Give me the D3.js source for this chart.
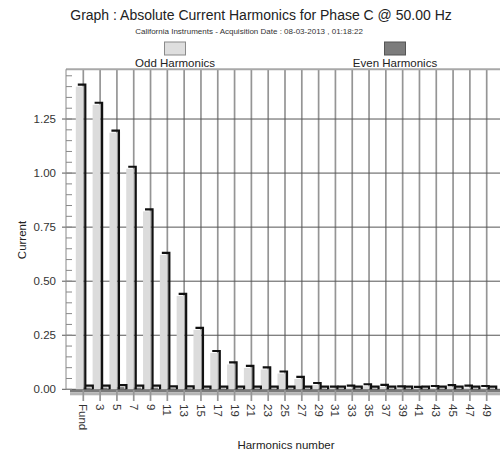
<!DOCTYPE html>
<html>
<head>
<meta charset="utf-8">
<script src="https://cdn.jsdelivr.net/npm/d3@7"></script>
<style>
  html, body { margin: 0; padding: 0; background: #fff; }
  svg { display: block; font-family: "Liberation Sans", Arial, sans-serif; }
</style>
</head>
<body>
<svg id="chart" width="500" height="452"></svg>
<script>
// ---- data ----
const categories = ["Fund","3","5","7","9","11","13","15","17","19","21","23","25","27","29","31","33","35","37","39","41","43","45","47","49"];
const oddValues  = [1.40,1.316,1.187,1.02,0.823,0.622,0.432,0.275,0.168,0.115,0.099,0.092,0.073,0.048,0.020,0.003,0.008,0.014,0.011,0.004,0.002,0.006,0.010,0.008,0.006];
const evenValues = [0.008,0.008,0.010,0.008,0.008,0.004,0.004,0.003,0.003,0.003,0.003,0.003,0.003,0.003,0.003,0.003,0.003,0.003,0.003,0.003,0.003,0.003,0.003,0.003,0.003];
const yTicks = [0, 0.25, 0.5, 0.75, 1.0, 1.25];
const yTickLabels = ["0.00","0.25","0.50","0.75","1.00","1.25"];
const seriesNames = ["Odd Harmonics", "Even Harmonics"];
const titleText = "Graph : Absolute Current Harmonics for Phase C @ 50.00 Hz";
const subtitleText = "California Instruments - Acquisition Date : 08-03-2013 , 01:18:22";
const xTitle = "Harmonics number";
const yTitle = "Current";

// ---- layout ----
const svg = d3.select("#chart");
const plot = { left: 66, right: 500, top: 69.3, bottom: 389.3 };
const x = d3.scalePoint().domain(categories).range([83.3, 486.7]);
const y = d3.scaleLinear().domain([0, 1.48]).range([plot.bottom, plot.top]);
const barW = 7.5, dx = 2, dy = -2;

// titles
svg.append("text").attr("x", 261).attr("y", 20).attr("text-anchor", "middle")
  .attr("font-size", 14).attr("fill", "#222").text(titleText);
svg.append("text").attr("x", 249).attr("y", 33.5).attr("text-anchor", "middle")
  .attr("font-size", 8).attr("fill", "#333").text(subtitleText);

// legend
const legend = [
  { name: seriesNames[0], cx: 175, fill: "#dedede", stroke: "#8a8a8a" },
  { name: seriesNames[1], cx: 395, fill: "#7c7c7c", stroke: "#555" }
];
legend.forEach(l => {
  svg.append("rect").attr("x", l.cx - 10.5).attr("y", 42).attr("width", 21).attr("height", 13)
    .attr("fill", l.fill).attr("stroke", l.stroke).attr("stroke-width", 1);
  svg.append("text").attr("x", l.cx).attr("y", 66.5).attr("text-anchor", "middle")
    .attr("font-size", 11.5).attr("fill", "#222").text(l.name);
});

// floor band
svg.append("rect").attr("x", 70).attr("y", plot.bottom).attr("width", plot.right - 70).attr("height", 3)
  .attr("fill", "#7a7a7a");
svg.append("rect").attr("x", 70).attr("y", plot.bottom + 3).attr("width", plot.right - 70).attr("height", 3)
  .attr("fill", "#b4b4b4");

// vertical gridlines (extend below as ticks)
svg.append("g").selectAll("line").data(categories).join("line")
  .attr("x1", d => x(d)).attr("x2", d => x(d))
  .attr("y1", plot.top).attr("y2", 401)
  .attr("stroke", "#959595").attr("stroke-width", 1.7);

// horizontal gridlines
svg.append("g").selectAll("line").data(yTicks).join("line")
  .attr("x1", 62).attr("x2", plot.right)
  .attr("y1", d => y(d)).attr("y2", d => y(d))
  .attr("stroke", "#555").attr("stroke-width", 1);

// top frame & y axis line
svg.append("line").attr("x1", plot.left).attr("x2", plot.right).attr("y1", plot.top).attr("y2", plot.top)
  .attr("stroke", "#a8a8a8").attr("stroke-width", 2);
svg.append("line").attr("x1", plot.left).attr("x2", plot.left).attr("y1", plot.top).attr("y2", plot.bottom)
  .attr("stroke", "#888").attr("stroke-width", 1);

// minor ticks
const minor = d3.range(0, 1.4501, 0.05);
svg.append("g").selectAll("line").data(minor).join("line")
  .attr("x1", plot.left).attr("x2", 72)
  .attr("y1", d => y(d)).attr("y2", d => y(d))
  .attr("stroke", "#888").attr("stroke-width", 1);

// y tick labels
svg.append("g").selectAll("text").data(yTicks).join("text")
  .attr("x", 56).attr("y", d => y(d)).attr("dy", "0.35em").attr("text-anchor", "end")
  .attr("font-size", 11.5).attr("fill", "#333")
  .text((d, i) => yTickLabels[i]);

// bars
const gBars = svg.append("g");
const odd = categories.map((c, i) => ({ c, v: oddValues[i], x0: x(c) - barW, x1: x(c), fill: "#dcdcdc" }));
const even = categories.map((c, i) => ({ c, v: evenValues[i], x0: x(c), x1: x(c) + barW, fill: "#7c7c7c" }));
const all = odd.concat(even);
gBars.selectAll("rect").data(all).join("rect")
  .attr("x", d => d.x0).attr("width", d => d.x1 - d.x0)
  .attr("y", d => y(d.v)).attr("height", d => y(0) - y(d.v))
  .attr("fill", d => d.fill);
gBars.selectAll("path").data(all).join("path")
  .attr("d", d => `M${d.x0 + dx},${y(d.v) + dy}H${d.x1 + dx}V${y(0)}`)
  .attr("fill", "none").attr("stroke", "#111").attr("stroke-width", 2.2);

// x labels (rotated)
svg.append("g").selectAll("text").data(categories).join("text")
  .attr("transform", d => `translate(${x(d)},404) rotate(90)`)
  .attr("dy", "0.35em").attr("text-anchor", "start")
  .attr("font-size", 11.5).attr("fill", "#333").text(d => d);

// axis titles
svg.append("text").attr("x", 286).attr("y", 449).attr("text-anchor", "middle")
  .attr("font-size", 11.5).attr("fill", "#222").text(xTitle);
svg.append("text").attr("transform", "translate(26,240) rotate(-90)").attr("text-anchor", "middle")
  .attr("font-size", 11.5).attr("fill", "#222").text(yTitle);
</script>
</body>
</html>
